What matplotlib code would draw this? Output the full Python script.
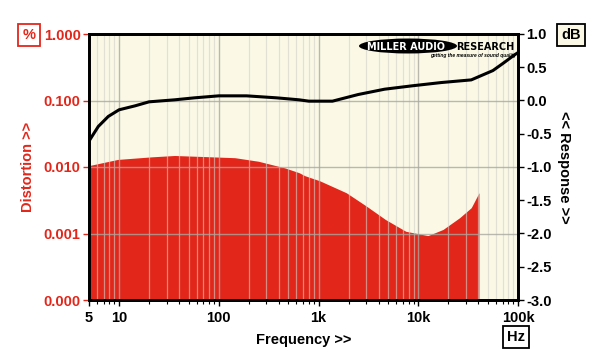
import numpy as np
import matplotlib.pyplot as plt
from matplotlib.patches import Ellipse
from matplotlib.ticker import FixedLocator, NullFormatter

plt.rcParams['font.family'] = ['Liberation Sans', 'DejaVu Sans']
plt.rcParams['font.weight'] = 'bold'

# distortion (%) vs frequency
thd_freq = [5, 9.7, 21, 36, 68, 145, 250, 460, 640, 730, 1030, 1900, 3000,
            4700, 7500, 12500, 17700, 26000, 34000, 40600]
thd_pct = [0.0105, 0.0130, 0.0142, 0.0149, 0.0144, 0.0138, 0.0122, 0.0097,
           0.0082, 0.0074, 0.0062, 0.0041, 0.0026, 0.00162, 0.00108, 0.00093,
           0.00115, 0.00173, 0.00245, 0.0041]

# frequency response (dB)
resp_freq = [5, 6.2, 7.8, 10, 14.5, 20, 36, 57, 100, 190, 380, 540, 640, 800,
             1380, 2500, 4600, 8600, 17000, 34000, 56000, 71000, 93000, 100000]
resp_db = [-0.61, -0.39, -0.24, -0.14, -0.08, -0.02, 0.01, 0.04, 0.07, 0.07,
           0.04, 0.02, 0.01, -0.01, -0.01, 0.09, 0.17, 0.22, 0.27, 0.31, 0.45,
           0.56, 0.69, 0.72]

x_ticks = [5, 10, 100, 1000, 10000, 100000]
x_labels = ['5', '10', '100', '1k', '10k', '100k']
left_ticks = [1e-4, 1e-3, 1e-2, 1e-1, 1]
left_labels = ['0.000', '0.001', '0.010', '0.100', '1.000']
right_ticks = [1.0, 0.5, 0.0, -0.5, -1.0, -1.5, -2.0, -2.5, -3.0]

red = '#e3261a'
cream = '#fbf9e6'

fig = plt.figure(figsize=(6, 3.64), dpi=100)
ax = fig.add_axes([89/600, 64/364, 429/600, 266/364])
ax.set_facecolor(cream)
ax.set_xscale('log')
ax.set_yscale('log')
ax.set_xlim(5, 100000)
ax.set_ylim(1e-4, 1)

# smooth the distortion curve in log space
lf = np.log10(thd_freq)
lv = np.log10(thd_pct)
fine = np.linspace(lf[0], lf[-1], 400)
fill_y = 10 ** np.interp(fine, lf, lv)
ax.fill_between(10 ** fine, 1e-4, fill_y, color=red, lw=0, zorder=1)

# grid
minor = [m * 10 ** d for d in range(0, 5) for m in range(2, 10)]
minor = [v for v in minor if 5 < v < 100000]
for v in minor:
    ax.axvline(v, color='#d0d0c8', lw=0.9, alpha=0.6, zorder=2)
for v in [10, 100, 1000, 10000]:
    ax.axvline(v, color='#a8a8a0', lw=1.0, alpha=0.8, zorder=2)
for v in [1e-3, 1e-2, 1e-1]:
    ax.axhline(v, color='#a8a8a0', lw=1.0, alpha=0.8, zorder=2)

ax.xaxis.set_major_locator(FixedLocator(x_ticks))
ax.xaxis.set_minor_locator(FixedLocator(minor))
ax.xaxis.set_minor_formatter(NullFormatter())
ax.set_xticklabels(x_labels)
ax.tick_params(axis='x', which='major', length=4, width=1, labelsize=10.5, pad=4, colors='black')
ax.tick_params(axis='x', which='minor', length=3, width=0.8)

ax.yaxis.set_major_locator(FixedLocator(left_ticks))
ax.yaxis.set_minor_locator(FixedLocator([]))
ax.set_yticklabels(left_labels)
ax.tick_params(axis='y', which='major', length=4, width=1, colors=red, labelsize=10.5, pad=2)

for s in ax.spines.values():
    s.set_linewidth(2)
    s.set_color('black')

ax2 = ax.twinx()
ax2.set_ylim(-3.0, 1.0)
ax2.plot(resp_freq, resp_db, color='black', lw=2.2, solid_capstyle='round',
         solid_joinstyle='round', zorder=5)
ax2.set_yticks(right_ticks)
ax2.set_yticklabels(['%.1f' % t for t in right_ticks])
ax2.tick_params(axis='y', length=4, width=1, labelsize=10.5, pad=2, colors='black')
for s in ax2.spines.values():
    s.set_linewidth(2)

ax.set_xlabel('Frequency >>', fontsize=10.5, fontweight='bold', labelpad=6)
ax.set_ylabel('Distortion >>', fontsize=10.5, fontweight='bold', color=red, labelpad=6)
ax2.set_ylabel('<< Response >>', fontsize=10.5, fontweight='bold', rotation=-90, labelpad=14)

# unit boxes
fig.text(29/600, 1 - 35/364, '%', ha='center', va='center', color=red, fontsize=10.5,
         fontweight='bold', bbox=dict(boxstyle='square,pad=0.3', fc='white', ec=red, lw=1.3))
fig.text(571/600, 1 - 35/364, 'dB', ha='center', va='center', color='black', fontsize=10.5,
         fontweight='bold', bbox=dict(boxstyle='square,pad=0.3', fc=cream, ec='black', lw=1.3))
fig.text(516/600, 1 - 337/364, 'Hz', ha='center', va='center', color='black', fontsize=10.5,
         fontweight='bold', bbox=dict(boxstyle='square,pad=0.3', fc='white', ec='black', lw=1.3))

# logo
logo = Ellipse((408/600, 1 - 46/364), 98/600, 15/364, transform=fig.transFigure,
               fc='black', ec='none', zorder=10)
fig.patches.append(logo)
fig.text(406/600, 1 - 46.5/364, 'MILLER AUDIO', ha='center', va='center', color='white',
         fontsize=7, fontweight='heavy', family='DejaVu Sans', zorder=11)
fig.text(456/600, 1 - 46.5/364, 'RESEARCH', ha='left', va='center', color='black',
         fontsize=7, fontweight='heavy', family='DejaVu Sans', zorder=11)
fig.text(516/600, 1 - 55/364, 'getting the measure of sound quality', ha='right', va='center',
         color='black', fontsize=3.5, fontstyle='italic', zorder=11)

fig.savefig('out.png', dpi=100)
